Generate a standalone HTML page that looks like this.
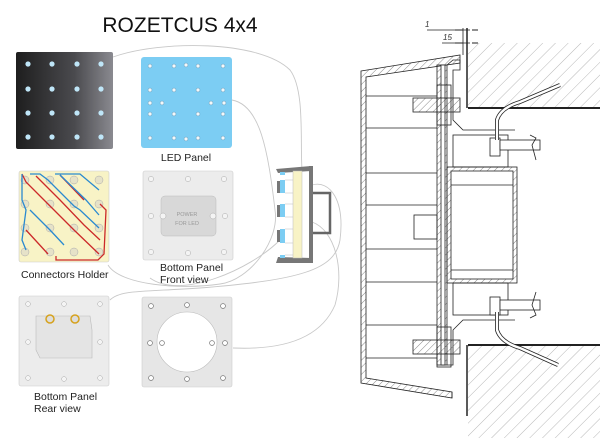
<!DOCTYPE html>
<html><head><meta charset="utf-8"><style>
html,body{margin:0;padding:0;background:#fff;}
svg{display:block;}
text{font-family:"Liberation Sans",sans-serif;}
</style></head><body>
<svg width="600" height="438" viewBox="0 0 600 438" xmlns="http://www.w3.org/2000/svg">
<defs>
<linearGradient id="blk" x1="0" y1="0" x2="1" y2="0">
<stop offset="0" stop-color="#1e1e1e"/><stop offset="0.6" stop-color="#4a4a4e"/><stop offset="1" stop-color="#8a8a90"/>
</linearGradient>
<pattern id="h" width="5" height="5" patternUnits="userSpaceOnUse" patternTransform="rotate(45)">
<line x1="0" y1="0" x2="0" y2="5" stroke="#555" stroke-width="0.7"/></pattern>
<pattern id="hw" width="9" height="9" patternUnits="userSpaceOnUse" patternTransform="rotate(45)">
<line x1="0" y1="0" x2="0" y2="9" stroke="#888" stroke-width="0.6"/></pattern>
</defs>

<text x="180" y="32" font-size="21" text-anchor="middle" fill="#111">ROZETCUS 4x4</text>

<!-- connecting curves -->
<g fill="none" stroke="#c8c8c8" stroke-width="0.9">
<path d="M113,57 C160,40 260,40 290,70 C305,90 300,140 302,170"/>
<path d="M232,100 C260,105 268,150 275,210 C280,240 250,280 220,284 C180,290 120,285 108,265"/>
<path d="M312,185 C330,180 345,200 340,240 C335,270 300,280 200,288 C140,292 120,290 110,300"/>
<path d="M312,222 C335,230 345,270 335,305 C320,340 280,350 233,348"/>
<path d="M280,240 C250,270 180,300 150,278"/>
</g>

<!-- black panel -->
<rect x="16" y="52" width="97" height="97" rx="2" fill="url(#blk)"/>
<g fill="#bfe6f8">
<circle cx="28" cy="64" r="2.6"/><circle cx="52" cy="64" r="2.6"/><circle cx="77" cy="64" r="2.6"/><circle cx="101" cy="64" r="2.6"/>
<circle cx="28" cy="89" r="2.6"/><circle cx="52" cy="89" r="2.6"/><circle cx="77" cy="89" r="2.6"/><circle cx="101" cy="89" r="2.6"/>
<circle cx="28" cy="113" r="2.6"/><circle cx="52" cy="113" r="2.6"/><circle cx="77" cy="113" r="2.6"/><circle cx="101" cy="113" r="2.6"/>
<circle cx="28" cy="137" r="2.6"/><circle cx="52" cy="137" r="2.6"/><circle cx="77" cy="137" r="2.6"/><circle cx="101" cy="137" r="2.6"/>
</g>

<!-- LED panel -->
<rect x="141" y="57" width="91" height="91" rx="3" fill="#7ccdf3"/>
<g fill="#f4f8fa" stroke="#4a8ab0" stroke-width="0.4">
<circle cx="150" cy="66" r="2"/><circle cx="174" cy="66" r="2"/><circle cx="186" cy="65" r="2"/><circle cx="198" cy="66" r="2"/><circle cx="223" cy="66" r="2"/>
<circle cx="150" cy="90" r="2"/><circle cx="174" cy="90" r="2"/><circle cx="198" cy="90" r="2"/><circle cx="223" cy="90" r="2"/>
<circle cx="150" cy="103" r="2"/><circle cx="162" cy="103" r="2"/><circle cx="211" cy="103" r="2"/><circle cx="224" cy="103" r="2"/>
<circle cx="150" cy="114" r="2"/><circle cx="174" cy="114" r="2"/><circle cx="198" cy="114" r="2"/><circle cx="223" cy="114" r="2"/>
<circle cx="150" cy="138" r="2"/><circle cx="174" cy="138" r="2"/><circle cx="186" cy="139" r="2"/><circle cx="198" cy="138" r="2"/><circle cx="223" cy="138" r="2"/>
</g>
<text x="186" y="161" font-size="10.5" text-anchor="middle" fill="#222">LED Panel</text>

<!-- connectors holder -->
<rect x="19" y="171" width="90" height="91" rx="2" fill="#f8f3c6" stroke="#ccc" stroke-width="0.6"/>
<g fill="#e6e2c8" stroke="#aaa" stroke-width="0.5">
<circle cx="25" cy="180" r="4"/><circle cx="50" cy="180" r="4"/><circle cx="74" cy="180" r="4"/><circle cx="99" cy="180" r="4"/>
<circle cx="25" cy="204" r="4"/><circle cx="50" cy="204" r="4"/><circle cx="74" cy="204" r="4"/><circle cx="99" cy="204" r="4"/>
<circle cx="25" cy="228" r="4"/><circle cx="50" cy="228" r="4"/><circle cx="74" cy="228" r="4"/><circle cx="99" cy="228" r="4"/>
<circle cx="25" cy="252" r="4"/><circle cx="50" cy="252" r="4"/><circle cx="74" cy="252" r="4"/><circle cx="99" cy="252" r="4"/>
</g>
<g fill="none" stroke-width="1.3">
<path d="M22,174 L26,182 L50,206 L74,230 L99,254 M36,176 L60,200 L84,225 L100,240 M60,175 L84,200 M26,230 L48,254" stroke="#cc2a2a"/>
<path d="M22,174 L22,200 L26,210 L22,240 L26,250 M30,174 L40,174 L48,180 L74,206 L80,210 L99,228 M55,174 L80,174 L99,190 M60,175 L86,200 L99,215 M30,210 L50,230 L64,245" stroke="#2a8ad0"/>
<path d="M56,256 L56,260 L98,260 L104,254 L106,210 L100,204" stroke="#cc2a2a"/>
</g>
<text x="21" y="278" font-size="10.5" fill="#222">Connectors Holder</text>

<!-- bottom panel front -->
<rect x="143" y="171" width="90" height="89" rx="2" fill="#ececec" stroke="#ccc" stroke-width="0.6"/>
<rect x="161" y="196" width="55" height="40" rx="4" fill="#d8d8d8" stroke="#bbb" stroke-width="0.5"/>
<g fill="#f4f4f4" stroke="#aaa" stroke-width="0.5">
<circle cx="151" cy="179" r="2.6"/><circle cx="188" cy="179" r="2.6"/><circle cx="224" cy="179" r="2.6"/>
<circle cx="151" cy="216" r="2.6"/><circle cx="163" cy="216" r="3"/><circle cx="213" cy="216" r="3"/><circle cx="225" cy="216" r="2.6"/>
<circle cx="151" cy="252" r="2.6"/><circle cx="188" cy="253" r="2.6"/><circle cx="224" cy="252" r="2.6"/>
</g>
<text x="187" y="216" font-size="5.5" text-anchor="middle" fill="#999">POWER</text>
<text x="187" y="225" font-size="5.5" text-anchor="middle" fill="#999">FOR LED</text>
<text x="160" y="271" font-size="10.5" fill="#222">Bottom Panel</text>
<text x="160" y="283" font-size="10.5" fill="#222">Front view</text>

<!-- bottom panel rear -->
<rect x="19" y="296" width="90" height="90" rx="2" fill="#ececec" stroke="#ccc" stroke-width="0.6"/>
<path d="M36,316 L90,316 L92,330 L92,358 L40,358 L36,350 Z" fill="#e4e4e4" stroke="#bbb" stroke-width="0.6"/>
<g fill="#f4f4f4" stroke="#aaa" stroke-width="0.5">
<circle cx="28" cy="304" r="2.4"/><circle cx="64" cy="304" r="2.4"/><circle cx="100" cy="304" r="2.4"/>
<circle cx="28" cy="342" r="2.4"/><circle cx="100" cy="342" r="2.4"/>
<circle cx="28" cy="378" r="2.4"/><circle cx="64" cy="379" r="2.4"/><circle cx="100" cy="378" r="2.4"/>
</g>
<circle cx="50" cy="319" r="4" fill="#ddd" stroke="#d6a21e" stroke-width="1.5"/>
<circle cx="75" cy="319" r="4" fill="#ddd" stroke="#d6a21e" stroke-width="1.5"/>
<text x="34" y="400" font-size="10.5" fill="#222">Bottom Panel</text>
<text x="34" y="412" font-size="10.5" fill="#222">Rear view</text>

<!-- frame -->
<rect x="142" y="297" width="90" height="90" rx="2" fill="#e6e6e6" stroke="#ccc" stroke-width="0.6"/>
<circle cx="187" cy="342" r="30" fill="#fff" stroke="#bbb" stroke-width="0.6"/>
<g fill="#fff" stroke="#777" stroke-width="0.7">
<circle cx="151" cy="306" r="2.4"/><circle cx="223" cy="306" r="2.4"/><circle cx="151" cy="378" r="2.4"/><circle cx="223" cy="378" r="2.4"/>
<circle cx="187" cy="305" r="2.4"/><circle cx="187" cy="379" r="2.4"/>
<circle cx="150" cy="343" r="2.4"/><circle cx="162" cy="343" r="2.4"/><circle cx="212" cy="343" r="2.4"/><circle cx="225" cy="343" r="2.4"/>
</g>

<!-- small device -->
<path d="M276,169 L311,166 L311,171 L278,173 Z" fill="#777"/>
<path d="M276,263 L311,263 L311,258 L278,257 Z" fill="#777"/>
<rect x="293" y="171" width="9" height="87" fill="#f8f3c6" stroke="#bbb" stroke-width="0.5"/>
<g fill="none" stroke="#bbb" stroke-width="0.6">
<path d="M285,180 H293 M285,193 H293 M285,204 H293 M285,217 H293 M285,229 H293 M285,243 H293 M285,255 H293"/>
</g>
<rect x="309" y="166" width="4" height="97" fill="#777"/>
<path d="M313,193 H330 V233 H313" fill="none" stroke="#666" stroke-width="2.5"/>
<g fill="#7ccdf3">
<rect x="280" y="172" width="5" height="3"/><rect x="280" y="180" width="5" height="13"/><rect x="280" y="204" width="5" height="13"/><rect x="280" y="229" width="5" height="14"/><rect x="280" y="255" width="5" height="3"/>
</g>
<g fill="#777"><rect x="277" y="181" width="3" height="12"/><rect x="277" y="205" width="3" height="12"/><rect x="277" y="230" width="3" height="12"/></g>

<!-- right drawing -->
<g stroke="#222" fill="none" stroke-width="0.8">
<!-- wall -->
<rect x="468" y="43" width="132" height="65" fill="url(#hw)" stroke="none"/>
<rect x="468" y="346" width="132" height="92" fill="url(#hw)" stroke="none"/>
<line x1="468" y1="108" x2="600" y2="108" stroke-width="2"/>
<line x1="468" y1="345" x2="600" y2="345" stroke-width="2"/>
<line x1="467" y1="28" x2="467" y2="108" stroke-width="1.5"/>
<line x1="467" y1="345" x2="467" y2="416" stroke-width="1.5"/>
<!-- dims -->
<line x1="427" y1="30" x2="470" y2="30"/><line x1="442" y1="43" x2="470" y2="43"/>
<line x1="463" y1="28" x2="463" y2="55"/>
<path d="M455,30 L463,30 M472,30 L478,30 M455,43 L463,43 M472,43 L478,43" stroke-width="1"/>
<!-- shell -->
<path d="M361,71 L460,55 L460,63 L366,77 L366,378 L452,392 L452,398 L361,383 Z" fill="url(#h)"/>
<line x1="452" y1="392" x2="452" y2="398"/>
<!-- inner lines -->
<path d="M366,96 H437 M366,128 H437 M366,173 H437 M366,205 H437 M366,249 H437 M366,282 H437 M366,325 H437 M366,358 H437"/>
<rect x="414" y="215" width="23" height="24"/>
<!-- plate -->
<rect x="437" y="65" width="10" height="300" fill="url(#h)"/>
<rect x="441" y="65" width="4" height="300" fill="#fff"/>
<path d="M447,65 L453,60 L460,60 L460,70 L453,70 L453,120 L463,130 L515,130" />
<path d="M447,365 L453,365 L453,330 L463,320 L515,320"/>
<!-- flanges -->
<rect x="413" y="98" width="47" height="14" fill="url(#h)"/>
<rect x="437" y="85" width="14" height="40" fill="none"/>
<rect x="413" y="340" width="47" height="14" fill="url(#h)"/>
<rect x="437" y="327" width="14" height="40" fill="none"/>
<!-- center box -->
<rect x="447" y="167" width="70" height="116" fill="url(#h)"/>
<rect x="451" y="171" width="62" height="108" fill="#fff"/>
<path d="M451,185 H513 M451,270 H513"/>
<rect x="453" y="135" width="55" height="32"/>
<rect x="453" y="283" width="55" height="32"/>
<!-- screws -->
<rect x="490" y="138" width="10" height="18" fill="#fff"/>
<rect x="500" y="140" width="40" height="10" fill="#fff"/>
<path d="M530,135 L536,138 L532,145 L536,160"/>
<rect x="490" y="297" width="10" height="18" fill="#fff"/>
<rect x="500" y="300" width="40" height="10" fill="#fff"/>
<path d="M530,318 L536,315 L532,305 L536,292"/>
<!-- wires -->
<path d="M497,140 L497,120 C500,110 510,105 520,102 L560,85" stroke-width="4" stroke="#222"/>
<path d="M497,140 L497,120 C500,110 510,105 520,102 L560,85" stroke-width="2.4" stroke="#fff"/>
<path d="M497,312 L497,330 C500,340 510,345 520,348 L558,365" stroke-width="4" stroke="#222"/>
<path d="M497,312 L497,330 C500,340 510,345 520,348 L558,365" stroke-width="2.4" stroke="#fff"/>
</g>
<text x="425" y="27" font-size="8" font-style="italic" fill="#333">1</text>
<text x="443" y="40" font-size="8" font-style="italic" fill="#333">15</text>
</svg>
</body></html>
